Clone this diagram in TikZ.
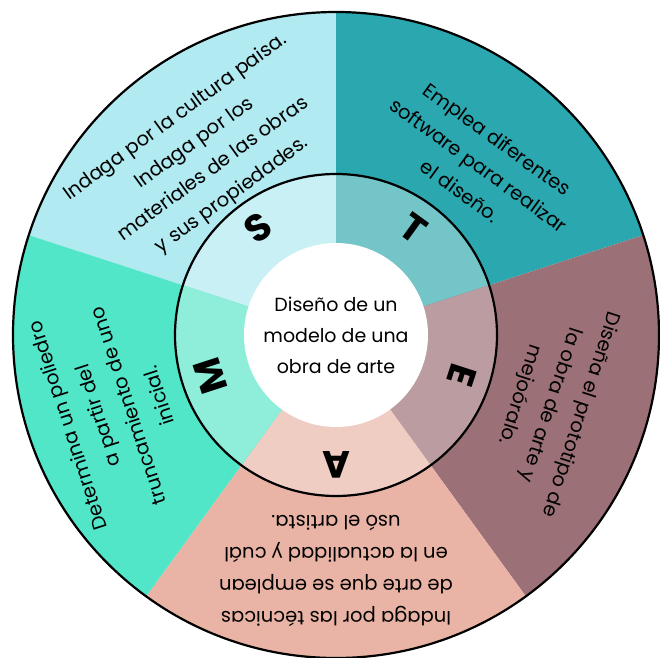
\documentclass[tikz,border=0pt]{standalone}
\usepackage{fontspec}
\setmainfont{Poppins}
\definecolor{sOut}{HTML}{B1EAF0}
\definecolor{sIn}{HTML}{C9F0F4}
\definecolor{tOut}{HTML}{2BA8AF}
\definecolor{tIn}{HTML}{73C5C7}
\definecolor{eOut}{HTML}{9C7077}
\definecolor{eIn}{HTML}{BB9DA1}
\definecolor{aOut}{HTML}{E9B4A5}
\definecolor{aIn}{HTML}{F0CDC3}
\definecolor{mOut}{HTML}{52E6C9}
\definecolor{mIn}{HTML}{8EEEDA}
\begin{document}
\begin{tikzpicture}[x=1pt,y=1pt,
  outtext/.style={align=center,inner sep=0pt,font=\fontsize{19.5}{32}\selectfont},
  midtext/.style={align=center,inner sep=0pt,font=\fontsize{19}{31}\selectfont},
  letter/.style={inner sep=0pt,font=\fontsize{38}{38}\selectfont\bfseries},
  ring/.style={draw=black,line width=2.2pt}]
\useasboundingbox (0,0) rectangle (660,657);
\coordinate (O) at (336,322);
\foreach \a/\oc/\ic in {90/sOut/sIn,18/tOut/tIn,-54/eOut/eIn,-126/aOut/aIn,162/mOut/mIn}{
  \fill[\oc] (O) -- ++(\a:323) arc[start angle=\a,delta angle=72,radius=323] -- cycle;
  \fill[\ic] (O) -- ++(\a:161) arc[start angle=\a,delta angle=72,radius=161] -- cycle;
}
\draw[ring] (O) circle[radius=161];
\draw[ring] (O) circle[radius=323];
\fill[white] (O) circle[radius=92];
\node[midtext] (centre) at (O) {Diseño de un\\modelo de una\\obra de arte};
% letters
\node[letter,rotate=36]   (S) at ([shift={(126:132)}]O) {S};
\node[letter,rotate=-36]  (T) at ([shift={(54:132)}]O) {T};
\node[letter,rotate=-108] (E) at ([shift={(-18:132)}]O) {E};
\node[letter,rotate=180]  (A) at ([shift={(-90:130)}]O) {A};
\node[letter,rotate=108]  (M) at ([shift={(198:132)}]O) {M};
% outer texts
\node[outtext,rotate=36] (tS) at ([shift={(126.5:222)}]O)
  {Indaga por la cultura paisa.\\Indaga por los\\materiales de las obras\\y sus propiedades.};
\node[outtext,rotate=-36] (tT) at ([shift={(50:222)}]O)
  {Emplea diferentes\\software para realizar\\el diseño.};
\node[outtext,rotate=-108] (tE) at ([shift={(-18:225)}]O)
  {Diseña el prototipo de\\la obra de arte y\\mejoóralo.};
\node[outtext,rotate=180] (tA) at ([shift={(-90:236)}]O)
  {Indaga por las técnicas\\de arte que se emplean\\en la actualidad y cuál\\usó el artista.};
\node[outtext,rotate=108] (tM) at ([shift={(198.8:236)}]O)
  {Determina un poliedro\\a partir del\\truncamiento de uno\\inicial.};
\end{tikzpicture}
\end{document}
